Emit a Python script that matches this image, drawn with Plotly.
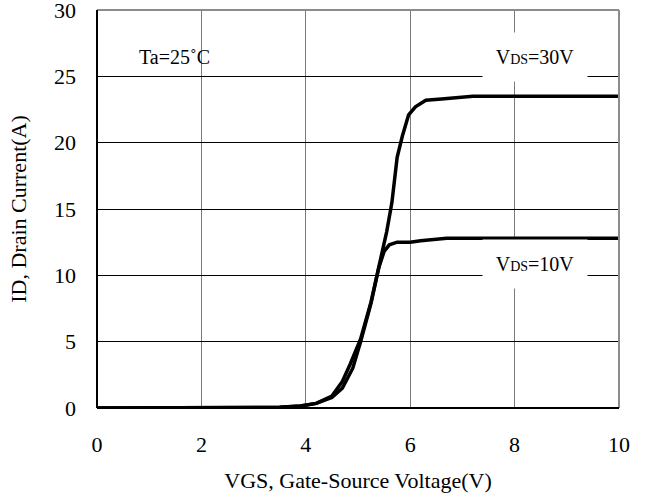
import plotly.graph_objects as go

# VDS = 30 V curve
vgs_30 = [0, 3.0, 3.5, 3.9, 4.2, 4.5, 4.7, 4.85, 5.05, 5.25, 5.4, 5.55, 5.65, 5.75,
          5.85, 5.97, 6.1, 6.3, 6.6, 7.0, 7.2, 8.0, 9.0, 10.0]
id_30 = [0, 0, 0.05, 0.15, 0.35, 0.9, 2.0, 3.3, 5.2, 8.0, 10.7, 13.3, 15.5, 18.9,
         20.5, 22.1, 22.7, 23.2, 23.3, 23.4, 23.5, 23.5, 23.5, 23.5]

# VDS = 10 V curve
vgs_10 = [0, 3.0, 3.5, 3.9, 4.2, 4.5, 4.7, 4.9, 5.05, 5.25, 5.4, 5.5, 5.6, 5.75,
          6.0, 6.2, 6.45, 6.7, 7.0, 8.0, 9.0, 10.0]
id_10 = [0, 0, 0.05, 0.15, 0.35, 0.8, 1.5, 3.0, 5.0, 7.9, 10.6, 11.8, 12.3, 12.5,
         12.5, 12.6, 12.7, 12.8, 12.8, 12.8, 12.8, 12.8]

x_ticks = [0, 2, 4, 6, 8, 10]
y_ticks = [0, 5, 10, 15, 20, 25, 30]

FONT = "Liberation Serif"

fig = go.Figure()
fig.add_trace(go.Scatter(x=vgs_30, y=id_30, mode="lines",
                         line=dict(color="black", width=3.5), name="VDS=30V"))
fig.add_trace(go.Scatter(x=vgs_10, y=id_10, mode="lines",
                         line=dict(color="black", width=3.5), name="VDS=10V"))

fig.update_layout(
    width=646, height=495,
    margin=dict(l=97, r=27, t=10, b=87),
    paper_bgcolor="white", plot_bgcolor="white",
    showlegend=False,
    font=dict(family=FONT, size=22, color="black"),
)

fig.update_xaxes(
    range=[0, 10], tickvals=x_ticks, ticktext=[str(v) for v in x_ticks],
    showgrid=True, gridcolor="#7a7a7a", gridwidth=1,
    zeroline=False, showline=False, ticks="",
    ticklabelstandoff=21, ticklabeloverflow="allow", automargin=False,
    title=dict(text="VGS, Gate-Source Voltage(V)", standoff=16,
               font=dict(family=FONT, size=22)),
)
fig.update_yaxes(
    range=[0, 30], tickvals=y_ticks, ticktext=[str(v) for v in y_ticks],
    showgrid=True, gridcolor="black", gridwidth=1,
    zeroline=False, showline=False, ticks="",
    ticklabelstandoff=20, ticklabeloverflow="allow", automargin=False,
    title=dict(text="ID, Drain Current(A)", standoff=21,
               font=dict(family=FONT, size=22)),
)

# frame
fig.add_shape(type="line", xref="paper", yref="paper", x0=0, x1=1, y0=1, y1=1,
              line=dict(color="#8c8c8c", width=2))
fig.add_shape(type="line", xref="paper", yref="paper", x0=1, x1=1, y0=0, y1=1,
              line=dict(color="#8c8c8c", width=2))
fig.add_shape(type="line", xref="paper", yref="paper", x0=0, x1=1, y0=0, y1=0,
              line=dict(color="black", width=2))
fig.add_shape(type="line", xref="paper", yref="paper", x0=0, x1=0, y0=0, y1=1,
              line=dict(color="black", width=2))

fig.add_annotation(x=1.48, y=26.42, text="Ta=25˚C", showarrow=False,
                   font=dict(family=FONT, size=20, color="black"))
fig.add_annotation(x=8.40, y=26.42,
                   text="V<span style='font-size:14px'>DS</span>=30V",
                   showarrow=False, bgcolor="white", width=80, height=24, borderpad=12,
                   font=dict(family=FONT, size=20, color="black"))
fig.add_annotation(x=8.40, y=10.86,
                   text="V<span style='font-size:14px'>DS</span>=10V",
                   showarrow=False, bgcolor="white", width=80, height=24, borderpad=12,
                   font=dict(family=FONT, size=20, color="black"))

fig.write_html("out.html", config={"displayModeBar": False},
               post_script="document.body.style.margin='0';document.body.style.overflow='hidden';")
